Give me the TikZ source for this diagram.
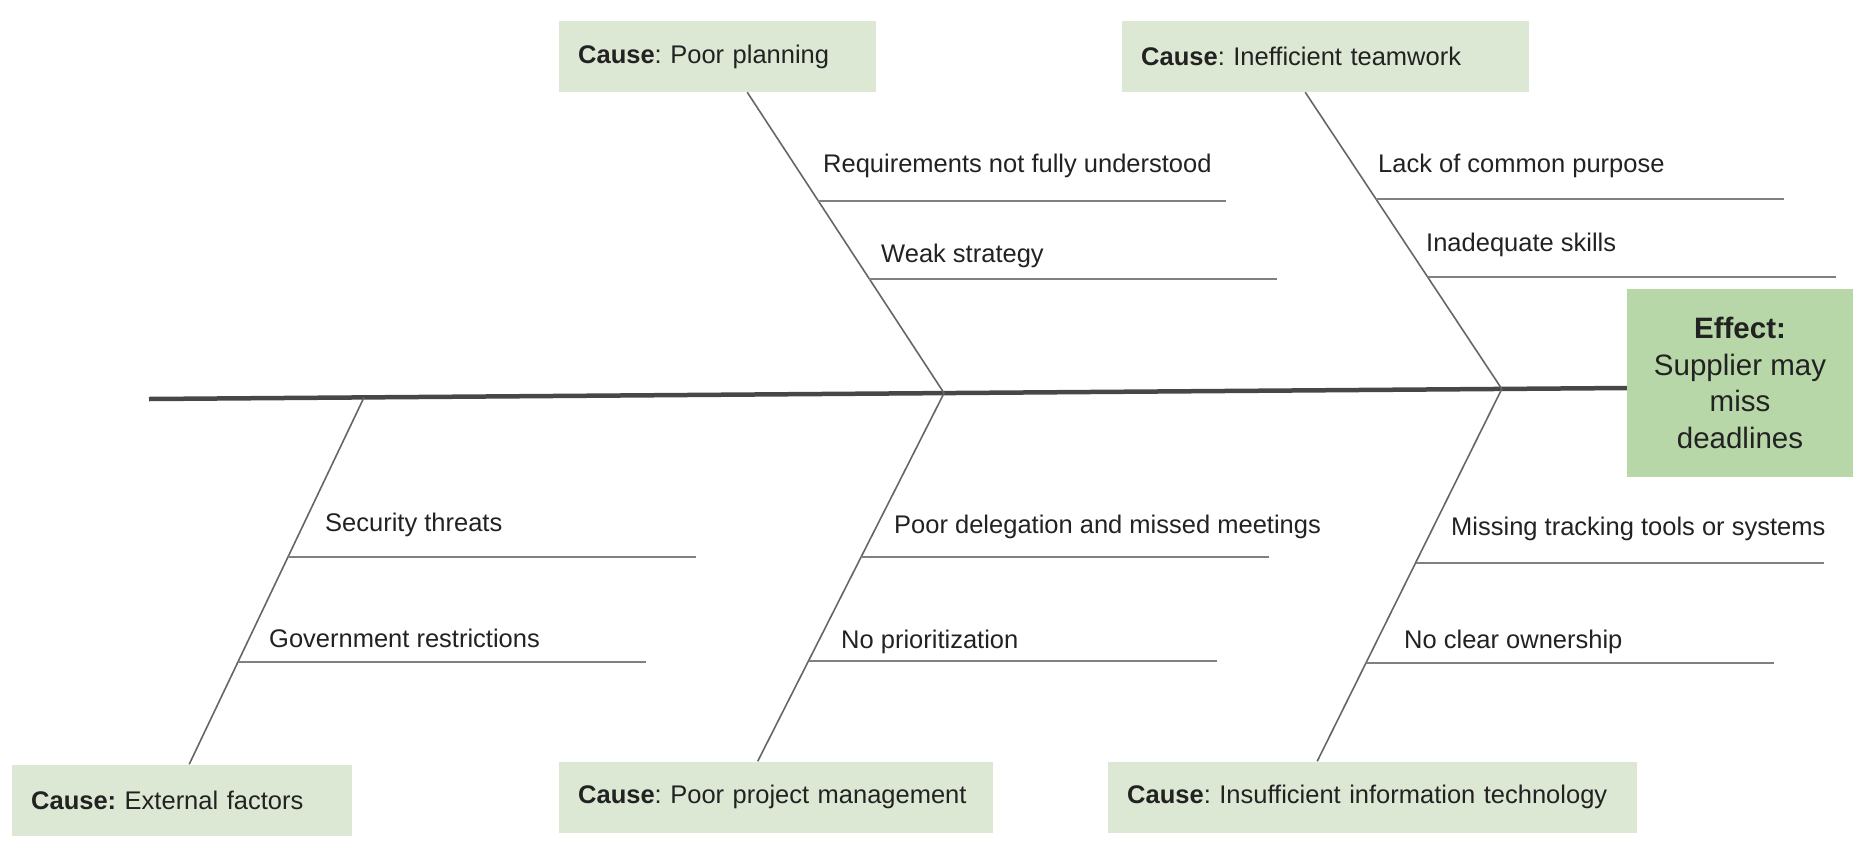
\documentclass[tikz,border=0pt]{standalone}
\usepackage{fontspec}
\setmainfont{Liberation Sans}
\usepackage{xcolor}
\definecolor{causegreen}{RGB}{220,232,211}
\definecolor{effectgreen}{RGB}{183,215,168}
\definecolor{inkgray}{RGB}{34,34,34}
\usepackage{tikz}
\usetikzlibrary{calc}
\frenchspacing

\begin{document}
\begin{tikzpicture}[
  x=1pt, y=-1pt,
  cause/.style={rectangle, fill=causegreen, anchor=west, inner xsep=19pt, inner ysep=0pt, minimum height=71pt, align=left, text=inkgray, font=\fontsize{25.5}{30}\selectfont},
  effect/.style={rectangle, fill=effectgreen, minimum width=226pt, minimum height=188pt, inner sep=0pt, align=center, text=inkgray, font=\fontsize{29.5}{36.5}\selectfont},
  lbl/.style={anchor=base west, inner sep=0pt, text=inkgray, font=\fontsize{25.5}{30}\selectfont},
  spine/.style={line width=4.5pt, draw=black!72},
  bone/.style={line width=1.6pt, draw=black!60},
  twig/.style={line width=2pt, draw=black!50}
]
  \useasboundingbox (0,0) rectangle (1866,852);

  % head and causes
  \node[effect] (effect) at (1740,383) {\textbf{Effect:}\\Supplier may\\miss\\deadlines};
  \node[cause, text width=279pt] (planning) at (559,56.5) {\textbf{Cause}: Poor planning};
  \node[cause, text width=369pt] (teamwork) at (1122,56.5) {\textbf{Cause}: Inefficient teamwork};
  \node[cause, text width=302pt] (external) at (12,800) {\textbf{Cause:} External factors};
  \node[cause, text width=396pt] (projmgmt) at (559,797) {\textbf{Cause}: Poor project management};
  \node[cause, text width=491pt] (infotech) at (1108,797) {\textbf{Cause}: Insufficient information technology};

  % spine
  \coordinate (tail) at (149,399);
  \draw[spine] (tail) -- coordinate[pos=.1455] (j1) coordinate[pos=.538] (j2) coordinate[pos=.9154] (j3) ([yshift=-5pt]effect.west);

  % bones
  \draw[bone] ([xshift=29.5pt]planning.south) -- coordinate[pos=.362] (p1) coordinate[pos=.621] (p2) (j2);
  \draw[bone] ([xshift=-20.5pt]teamwork.south) -- coordinate[pos=.360] (t1) coordinate[pos=.623] (t2) (j3);
  \draw[bone] (j1) -- coordinate[pos=.435] (e1) coordinate[pos=.721] (e2) ([xshift=7pt]external.north);
  \draw[bone] (j2) -- coordinate[pos=.445] (m1) coordinate[pos=.727] (m2) ([xshift=-18.5pt]projmgmt.north);
  \draw[bone] (j3) -- coordinate[pos=.467] (i1) coordinate[pos=.736] (i2) ([xshift=-55.5pt]infotech.north);

  \foreach \s in {p1,p2,t1,t2,e1,e2,m1,m2,i1,i2} {
    \draw[twig] (\s) -- ++(408,0);
  }

  % sub-causes
  \node[lbl] (req) at (823,172) {Requirements not fully understood};
  \node[lbl] (weak) at (881,262) {Weak strategy};
  \node[lbl] (lack) at (1378,172) {Lack of common purpose};
  \node[lbl] (skills) at (1426,251) {Inadequate skills};
  \node[lbl] (security) at (325,531) {Security threats};
  \node[lbl] (govt) at (269,647) {Government restrictions};
  \node[lbl] (deleg) at (894,533) {Poor delegation and missed meetings};
  \node[lbl] (prior) at (841,648) {No prioritization};
  \node[lbl] (tracking) at (1451,535) {Missing tracking tools or systems};
  \node[lbl] (owner) at (1404,648) {No clear ownership};
\end{tikzpicture}
\end{document}
